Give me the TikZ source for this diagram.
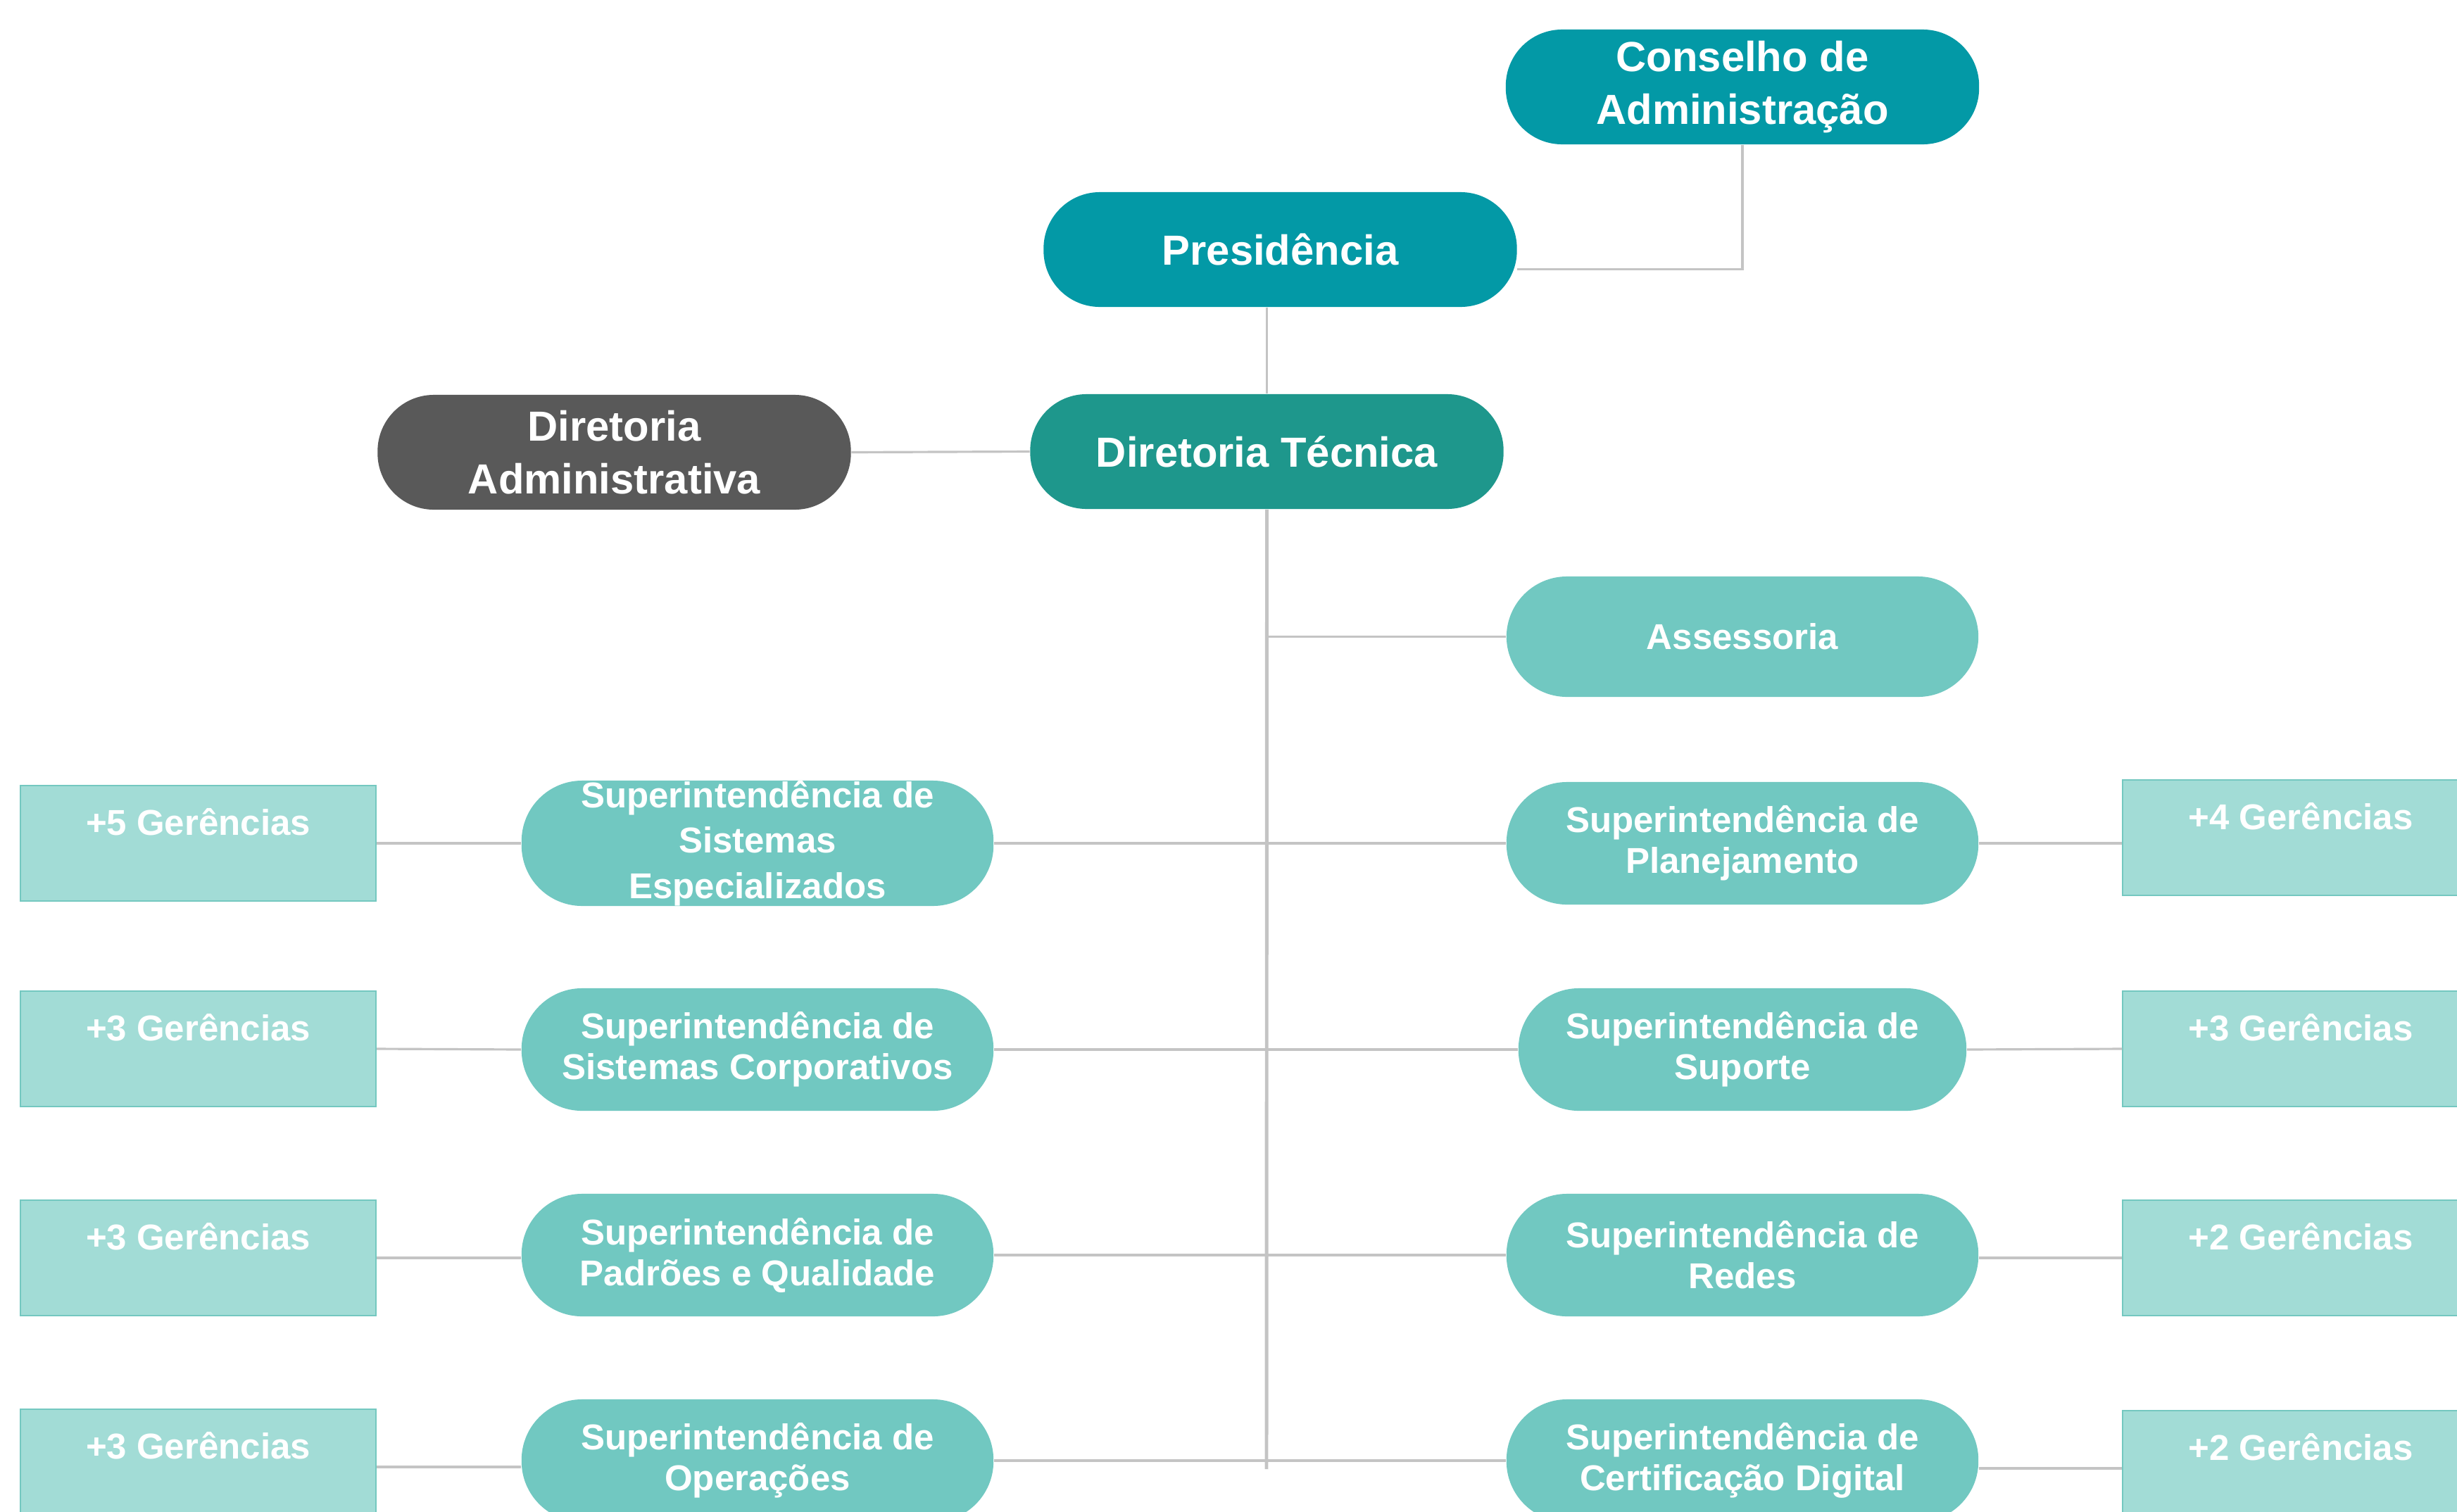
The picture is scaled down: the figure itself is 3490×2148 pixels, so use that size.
\documentclass[tikz,border=0pt]{standalone}
\usepackage{fontspec}
\setmainfont{Liberation Sans}

\definecolor{petrol}{HTML}{0399A6}
\definecolor{diretec}{HTML}{1E978C}
\definecolor{diradm}{HTML}{595959}
\definecolor{superint}{HTML}{71C8C1}
\definecolor{gerfill}{HTML}{A2DCD6}
\definecolor{gerline}{HTML}{74C8C0}
\definecolor{conn}{HTML}{C4C4C4}

\tikzset{
	topnode/.style={rectangle, rounded corners=8mm, minimum width=6.72cm, minimum height=1.63cm,
		inner sep=0pt, text=white, align=center, font=\fontsize{17}{21.5}\selectfont\bfseries},
	supnode/.style={rectangle, rounded corners=8.6mm, fill=superint, minimum width=6.7cm, minimum height=1.74cm,
		inner sep=0pt, text=white, align=center, font=\fontsize{14.5}{16.5}\selectfont\bfseries},
	gerbox/.style={rectangle, fill=gerfill, draw=gerline, line width=0.6pt, minimum width=5.05cm,
		inner sep=0pt, text height=7mm, text depth=9.4mm, text=white, font=\fontsize{14.5}{16.5}\selectfont\bfseries},
	link/.style={draw=conn, line width=0.9pt},
}

\begin{document}
\begin{tikzpicture}[x=0.01cm, y=-0.01cm]
			\useasboundingbox[fill=white] (0, 0) rectangle (3490, 2148);

			%%draw the top
			\node[topnode, fill=petrol] (cons) at (2475, 123.5){Conselho de\\Administração};
			\node[topnode, fill=petrol] (pres) at (1818.5, 354.5){Presidência};
			\node[topnode, fill=diretec] (dtec) at (1799.5, 641.5){Diretoria Técnica};
			\node[topnode, fill=diradm] (dadm) at (872.5, 642.5){Diretoria\\Administrativa};
			\node[supnode, minimum height=1.71cm] (asse) at (2475, 904.5){Assessoria};

			%%draw the left side
			\node[supnode, font=\fontsize{14.5}{18.4}\selectfont\bfseries] (ssis) at (1076, 1198){Superintendência de\\Sistemas\\Especializados};
			\node[supnode] (scorp) at (1076, 1491){Superintendência de\\Sistemas Corporativos};
			\node[supnode] (spadr) at (1076, 1783){Superintendência de\\Padrões e Qualidade};
			\node[supnode] (soper) at (1076, 2075){Superintendência de\\Operações};

			\node[gerbox, minimum height=1.64cm] (gsis) at (281.5, 1198){+5 Gerências};
			\node[gerbox, minimum height=1.64cm] (gcorp) at (281.5, 1490){+3 Gerências};
			\node[gerbox, minimum height=1.64cm] (gpadr) at (281.5, 1787){+3 Gerências};
			\node[gerbox, minimum height=1.64cm] (goper) at (281.5, 2084){+3 Gerências};

			%%draw the right side
			\node[supnode] (splan) at (2475, 1198){Superintendência de\\Planejamento};
			\node[supnode, minimum width=6.36cm] (ssup) at (2475, 1491){Superintendência de\\Suporte};
			\node[supnode] (sred) at (2475, 1783){Superintendência de\\Redes};
			\node[supnode] (scert) at (2475, 2075){Superintendência de\\Certificação Digital};

			\node[gerbox, minimum height=1.64cm] (gplan) at (3268, 1190){+4 Gerências};
			\node[gerbox, minimum height=1.64cm] (gsup) at (3268, 1490){+3 Gerências};
			\node[gerbox, minimum height=1.64cm] (gred) at (3268, 1787){+2 Gerências};
			\node[gerbox, minimum height=1.64cm] (gcert) at (3268, 2086){+2 Gerências};

			%%draw the lines
			\coordinate (trunk) at (1799, 2087);
			\draw[link] (cons.south) |- ([yshift=-2.8mm]pres.east);
			\draw[link] (dtec.north |- pres.south) -- (dtec.north);
			\draw[link] (dadm.east) -- (dtec.west);
			\draw[link, line width=1.4pt] (dtec.south) -- (trunk);
			\draw[link] (asse.west -| trunk) -- (asse.west);

			\draw[link] (ssis.east) -- (splan.west);
			\draw[link] (scorp.east) -- (ssup.west);
			\draw[link] (spadr.east) -- (sred.west);
			\draw[link] (soper.east) -- (scert.west);

			%%the gerencias
			\draw[link] (gsis.east) -- (ssis.west);
			\draw[link] (gcorp.east) -- (scorp.west);
			\draw[link] (gpadr.east) -- (gpadr.east -| spadr.west);
			\draw[link] (goper.east) -- (goper.east -| soper.west);
			\draw[link] (splan.east) -- (splan.east -| gplan.west);
			\draw[link] (ssup.east) -- (gsup.west);
			\draw[link] (gred.west -| sred.east) -- (gred.west);
			\draw[link] (gcert.west -| scert.east) -- (gcert.west);
\end{tikzpicture}
\end{document}
